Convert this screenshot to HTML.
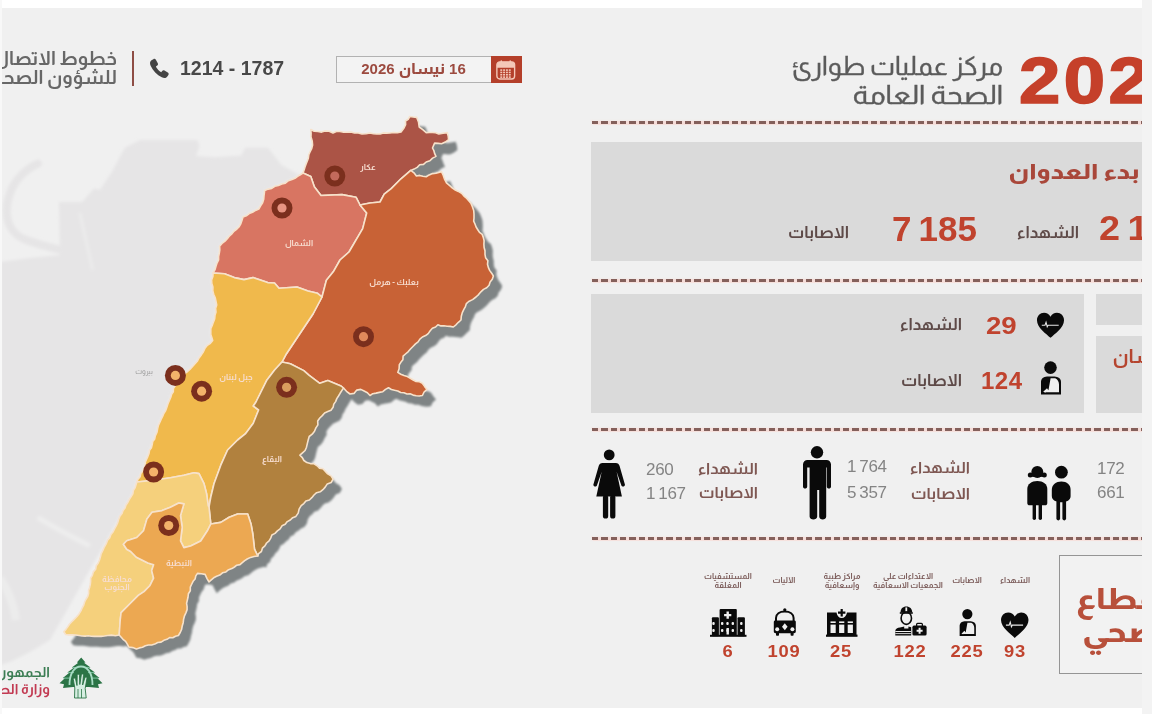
<!DOCTYPE html>
<html lang="ar"><head><meta charset="utf-8"><title>مركز عمليات طوارئ الصحة العامة</title>
<style>
*{margin:0;padding:0;box-sizing:border-box}
html,body{width:1152px;height:714px;overflow:hidden}
body{background:#f3f3f3;position:relative;font-family:'Almarai','Tajawal','DejaVu Sans',sans-serif}
#pg{position:absolute;left:0;top:0;width:1142px;height:714px;overflow:hidden;background:#f0f0f0}
.a{position:absolute;white-space:nowrap}
.r{direction:rtl;text-align:right}
.num{font-family:'Liberation Sans','Almarai','DejaVu Sans',sans-serif;font-weight:700;color:#c0432e}
.lb{color:#5e4a48;font-weight:700}
.gray{font-family:'Liberation Sans','Almarai','DejaVu Sans',sans-serif;color:#848484;letter-spacing:-0.3px}
.dl{position:absolute;left:592px;width:560px;height:2.8px;background:repeating-linear-gradient(90deg,#84605b 0 6.3px,#f5dcd8 6.3px 9.3px);box-shadow:0 0 1.5px 1.2px rgba(248,218,212,.7)}
.bx{position:absolute;background:#dadada}
.cap{position:absolute;text-align:center;font-size:8px;line-height:8.5px;color:#7a5a58;direction:rtl;font-weight:700}
.bn{position:absolute;text-align:center;font-family:'Liberation Sans','Almarai','DejaVu Sans',sans-serif;font-weight:700;font-size:17px;color:#c0432e;letter-spacing:0.8px;transform:scaleX(1.08)}
</style></head><body>
<div id="pg">
<svg style="position:absolute;left:0;top:0" width="600" height="714" viewBox="0 0 600 714">
<defs><filter id="bl" x="-10%" y="-10%" width="120%" height="120%"><feGaussianBlur stdDeviation="0.9"/></filter><filter id="bl2" x="-5%" y="-5%" width="110%" height="110%"><feGaussianBlur stdDeviation="1.6"/></filter></defs>
<g filter="url(#bl2)"><path d="M124.8,147.7 L140,140 L197.4,140 L199.5,146 L196,156 L214.6,157.3 L241.3,155.4 L245.1,147.7 L268,147.7 L281.4,165 L298.6,174.5 L303.0,173.0 L300.3,174.7 L297.6,176.4 L295.0,178.3 L292.0,179.6 L288.4,180.7 L285.4,183.1 L281.8,184.0 L278.4,185.5 L274.8,186.3 L271.7,188.4 L268.1,189.1 L264.7,190.4 L264.1,194.8 L263.7,199.2 L262.6,202.7 L260.6,205.8 L258.8,209.0 L255.5,210.4 L252.5,212.3 L249.2,213.6 L246.3,215.8 L243.0,217.0 L242.0,220.3 L240.9,223.6 L239.2,226.7 L236.9,229.0 L234.2,231.0 L232.1,233.6 L229.6,235.8 L227.5,238.4 L225.0,241.1 L222.0,243.5 L219.6,246.3 L219.8,249.8 L219.3,253.2 L218.6,256.6 L218.6,260.0 L217.0,263.1 L215.9,266.5 L214.9,269.9 L213.0,273.0 L212.9,276.5 L211.6,279.9 L211.8,283.5 L212.9,287.0 L212.8,290.7 L213.7,294.3 L215.2,297.7 L216.0,301.4 L216.7,305.0 L215.6,308.4 L216.0,312.0 L215.0,315.3 L214.7,318.8 L213.4,322.1 L212.2,325.4 L210.8,328.6 L210.8,334.5 L211.8,337.4 L212.7,340.4 L210.4,343.3 L207.3,345.3 L205.0,348.2 L203.4,351.7 L201.3,354.9 L199.0,358.0 L197.5,361.0 L195.2,363.5 L193.0,366.0 L190.1,369.1 L187.0,372.0 L184.4,373.6 L182.4,376.1 L180.0,378.0 L178.7,380.9 L176.9,383.5 L175.0,386.0 L173.4,388.6 L173.3,391.8 L171.6,394.3 L170.8,397.3 L169.6,400.0 L167.9,403.9 L166.6,408.0 L165.5,410.9 L163.8,413.5 L162.6,416.4 L161.2,419.1 L160.0,422.0 L158.4,425.3 L157.6,428.9 L156.9,432.5 L155.3,435.8 L154.7,438.9 L152.7,441.5 L152.2,444.6 L151.4,447.7 L149.5,450.3 L149.0,453.4 L147.9,456.3 L146.6,459.2 L145.4,462.0 L145.0,465.2 L143.9,468.1 L142.7,471.0 L140.8,473.5 L140.1,476.7 L138.0,479.1 L136.8,482.0 L135.9,484.9 L135.0,487.9 L133.3,490.5 L132.9,493.6 L131.3,496.3 L129.5,499.2 L127.9,502.2 L126.0,505.0 L125.0,508.0 L123.0,510.5 L122.0,513.5 L120.0,516.0 L118.7,519.2 L50,640 L30,652 L10,662 L0,665 L0,262 L30,258 L60,255 L59,202 L82,202 L94,188.6 L100,189.8 L111.5,172.6Z" fill="#e6e5e6"/><path d="M37.8,163.6 C20,172 10,186 7,205 C5,222 12,234 24,239 C36,244 52,248 69,252" fill="none" stroke="#e6e5e6" stroke-width="8" stroke-linecap="round"/><path d="M80,214 C84,232 88,250 92.4,268.7" fill="none" stroke="#ececec" stroke-width="2.5" stroke-linecap="round"/><path d="M39.6,518.7 C55,528 70,536 88,545" fill="none" stroke="#ededed" stroke-width="5" stroke-linecap="round"/><path d="M0,578 C8,590 14,606 16,620" fill="none" stroke="#ececec" stroke-width="8"/></g>
<g transform="translate(8,10)" fill="#7f8485" stroke="#7f8485" stroke-width="1.5" filter="url(#bl)">
<polygon points="310.8,129.5 314.2,131.3 318.0,131.5 321.6,132.1 325.0,131.0 329.2,131.2 333.0,133.0 336.3,131.5 340.0,131.5 343.6,132.3 347.2,132.3 350.8,132.0 354.5,133.0 358.3,133.0 362.0,134.0 366.0,133.7 370.0,133.0 373.4,133.7 376.8,134.0 380.1,133.9 383.4,132.9 386.7,133.1 390.0,133.0 393.6,132.5 397.4,132.7 401.0,132.0 404.0,128.0 405.6,124.7 405.5,121.0 408.2,119.3 409.8,116.5 413.2,117.0 416.7,117.4 418.5,122.0 419.2,127.0 422.8,129.7 426.2,132.6 429.4,132.5 432.6,132.5 435.7,132.8 438.8,134.0 443.0,133.2 447.2,132.6 448.2,136.0 448.6,139.6 445.3,142.1 441.6,143.8 438.1,143.4 434.6,143.1 432.5,148.0 433.9,150.7 434.7,153.7 436.0,156.4 432.6,158.1 429.9,160.8 426.2,162.0 423.5,164.4 419.7,164.8 417.2,167.4 414.1,169.1 410.8,170.4 401.0,178.8 391.2,188.6 384.2,194.2 380.0,202.0 370.0,203.0 360.0,205.0 356.0,197.2 342.0,194.6 321.0,195.5 314.3,186.8 310.8,176.4 303.0,173.0 304.1,170.0 305.0,167.0 306.1,163.9 307.4,160.8 308.4,157.9 308.8,154.8 310.0,152.0 311.7,148.6 312.6,145.0 312.2,140.9 311.0,137.0 311.1,133.2"/>
<polygon points="303.0,173.0 300.3,174.7 297.6,176.4 295.0,178.3 292.0,179.6 288.4,180.7 285.4,183.1 281.8,184.0 278.4,185.5 274.8,186.3 271.7,188.4 268.1,189.1 264.7,190.4 264.1,194.8 263.7,199.2 262.6,202.7 260.6,205.8 258.8,209.0 255.5,210.4 252.5,212.3 249.2,213.6 246.3,215.8 243.0,217.0 242.0,220.3 240.9,223.6 239.2,226.7 236.9,229.0 234.2,231.0 232.1,233.6 229.6,235.8 227.5,238.4 225.0,241.1 222.0,243.5 219.6,246.3 219.8,249.8 219.3,253.2 218.6,256.6 218.6,260.0 217.0,263.1 215.9,266.5 214.9,269.9 213.0,273.0 224.5,273.7 234.3,277.6 244.0,279.6 253.0,277.6 267.7,282.6 274.5,283.0 279.0,288.2 297.0,287.0 308.0,291.0 317.6,293.3 322.0,297.0 326.4,280.3 333.3,271.8 340.0,260.0 349.0,252.0 362.7,228.6 366.7,213.0 360.0,205.0 356.0,197.2 342.0,194.6 321.0,195.5 314.3,186.8 310.8,176.4"/>
<polygon points="410.8,170.4 414.0,172.8 416.4,176.0 419.7,175.4 422.9,176.3 426.2,176.7 429.2,174.9 432.4,173.6 436.0,173.2 441.6,171.8 443.2,175.2 444.4,178.8 446.5,182.8 450.0,185.8 452.5,188.2 455.3,190.0 458.4,191.4 461.6,193.3 464.0,196.1 466.8,198.4 469.0,201.0 471.1,203.6 472.4,206.8 473.7,210.4 474.0,214.2 474.0,218.0 473.7,221.1 475.0,224.0 476.1,227.0 477.8,229.7 479.5,232.4 482.2,234.4 483.3,237.4 484.1,240.7 483.9,244.1 484.1,247.5 485.0,250.8 485.0,254.3 485.6,257.7 487.9,260.7 487.5,264.3 488.4,267.6 489.8,270.6 491.7,273.2 493.4,276.0 492.3,279.3 490.1,281.9 489.1,285.3 486.7,287.8 483.5,289.4 480.9,291.8 478.6,294.6 476.0,297.0 472.6,299.6 468.7,301.5 466.4,303.6 465.4,306.6 464.0,309.2 462.3,312.6 461.3,316.2 461.0,320.0 458.4,322.3 456.0,324.8 453.3,327.0 450.2,326.4 447.1,326.2 444.0,325.8 440.9,325.9 437.9,324.7 435.6,327.0 432.4,328.3 430.2,330.8 428.2,333.6 425.6,335.6 422.4,337.0 419.9,339.1 418.1,341.9 415.5,343.9 413.2,346.2 410.7,348.8 408.3,351.6 405.5,354.0 403.1,356.2 402.9,359.7 401.0,362.1 399.3,364.7 399.1,368.7 397.8,372.4 400.8,374.2 404.0,375.5 407.3,376.6 410.3,378.2 413.2,380.0 416.1,381.5 419.5,381.8 422.4,383.2 424.6,386.4 427.0,389.4 424.1,392.0 422.4,395.5 419.2,396.0 416.2,395.8 413.1,395.1 410.1,393.8 407.0,394.0 404.0,392.8 400.7,392.5 397.8,391.0 394.6,390.3 391.4,389.5 388.5,387.8 385.5,389.4 382.8,391.7 379.3,392.4 376.1,393.1 372.8,393.7 370.0,395.5 367.4,392.7 364.1,391.0 360.8,389.4 356.8,390.1 354.0,393.4 350.0,394.0 346.5,391.3 343.5,388.0 341.0,386.0 327.8,380.6 319.8,383.3 309.2,375.3 303.8,370.6 290.3,363.8 282.0,362.0 285.8,354.8 299.3,334.5 313.0,314.0 322.0,297.0 326.4,280.3 333.3,271.8 340.0,260.0 349.0,252.0 362.7,228.6 366.7,213.0 360.0,205.0 370.0,203.0 380.0,202.0 384.2,194.2 391.2,188.6 401.0,178.8"/>
<polygon points="213.0,273.0 212.9,276.5 211.6,279.9 211.8,283.5 212.9,287.0 212.8,290.7 213.7,294.3 215.2,297.7 216.0,301.4 216.7,305.0 215.6,308.4 216.0,312.0 215.0,315.3 214.7,318.8 213.4,322.1 212.2,325.4 210.8,328.6 210.8,334.5 211.8,337.4 212.7,340.4 210.4,343.3 207.3,345.3 205.0,348.2 203.4,351.7 201.3,354.9 199.0,358.0 197.5,361.0 195.2,363.5 193.0,366.0 190.1,369.1 187.0,372.0 184.4,373.6 182.4,376.1 180.0,378.0 178.7,380.9 176.9,383.5 175.0,386.0 173.4,388.6 173.3,391.8 171.6,394.3 170.8,397.3 169.6,400.0 167.9,403.9 166.6,408.0 165.5,410.9 163.8,413.5 162.6,416.4 161.2,419.1 160.0,422.0 158.4,425.3 157.6,428.9 156.9,432.5 155.3,435.8 154.7,438.9 152.7,441.5 152.2,444.6 151.4,447.7 149.5,450.3 149.0,453.4 147.9,456.3 146.6,459.2 145.4,462.0 145.0,465.2 143.9,468.1 142.7,471.0 140.8,473.5 140.1,476.7 138.0,479.1 136.8,482.0 153.6,480.3 170.4,477.8 183.9,475.3 194.0,472.8 199.0,473.6 204.0,483.7 206.6,493.8 208.2,505.5 209.0,507.0 210.8,497.0 214.0,483.7 220.8,465.2 227.6,450.0 237.6,440.0 245.3,433.9 253.3,423.2 258.6,410.0 253.3,406.0 256.0,402.0 266.6,380.6 274.6,370.0 282.0,362.0 285.8,354.8 299.3,334.5 313.0,314.0 322.0,297.0 317.6,293.3 308.0,291.0 297.0,287.0 279.0,288.2 274.5,283.0 267.7,282.6 253.0,277.6 244.0,279.6 234.3,277.6 224.5,273.7"/>
<polygon points="282.0,362.0 274.6,370.0 266.6,380.6 256.0,402.0 253.3,406.0 258.6,410.0 253.3,423.2 245.3,433.9 237.6,440.0 227.6,450.0 220.8,465.2 214.0,483.7 210.8,497.0 209.0,507.0 210.8,524.0 220.8,522.4 229.2,517.3 237.6,514.0 247.7,514.0 251.0,524.0 252.8,534.0 254.5,549.2 257.8,556.0 258.6,553.6 261.4,551.5 262.4,548.2 264.9,545.9 266.6,543.0 269.1,540.8 270.7,538.1 271.9,535.0 275.0,533.4 277.4,530.9 280.1,528.9 282.0,525.8 285.2,524.3 287.3,521.6 290.3,520.0 292.7,517.7 295.9,516.4 298.2,513.1 299.1,509.1 301.2,505.7 303.8,503.6 305.9,501.0 309.4,500.0 311.8,497.7 314.0,495.0 316.6,492.7 320.2,491.8 322.9,489.7 325.2,487.1 327.3,483.9 331.2,482.5 333.1,479.1 331.0,475.9 327.7,473.9 325.2,471.1 322.9,468.7 319.5,468.1 317.2,465.8 314.1,463.8 310.4,463.6 306.9,462.6 303.9,460.5 302.3,457.6 299.9,455.2 302.5,452.9 305.1,450.5 306.5,447.2 307.3,443.6 308.2,440.0 309.2,436.5 312.2,434.2 314.5,431.2 315.9,427.9 317.9,424.9 317.7,421.0 319.8,418.0 322.3,415.6 324.6,413.0 327.8,411.6 331.0,410.2 333.1,407.3 333.8,404.1 335.6,401.6 336.8,398.6 338.5,396.0 340.1,393.3 341.8,390.6 343.5,388.0 341.0,386.0 327.8,380.6 319.8,383.3 309.2,375.3 303.8,370.6 290.3,363.8"/>
<polygon points="136.8,482.0 135.9,484.9 135.0,487.9 133.3,490.5 132.9,493.6 131.3,496.3 129.5,499.2 127.9,502.2 126.0,505.0 125.0,508.0 123.0,510.5 122.0,513.5 120.0,516.0 118.7,519.2 117.7,522.6 116.2,525.8 114.5,528.8 113.0,532.0 110.9,534.5 109.8,537.6 107.7,540.0 106.1,543.9 104.0,547.6 102.7,550.6 101.2,553.6 100.4,556.8 99.5,560.0 98.2,563.0 96.2,565.8 95.6,569.3 93.3,571.9 92.3,575.3 90.6,578.2 90.6,581.3 90.3,584.4 89.6,587.4 88.6,590.4 88.6,593.5 87.7,596.5 86.0,599.2 84.6,602.0 83.7,605.0 82.2,607.8 81.0,610.7 79.0,613.9 76.7,616.7 74.1,619.4 71.5,622.0 69.4,624.3 67.7,626.9 65.9,629.4 63.8,631.7 65.7,634.5 69.0,634.9 72.4,634.9 75.7,635.0 79.0,635.5 82.1,636.0 85.1,636.1 88.3,635.7 91.3,636.3 94.4,636.4 97.7,636.2 101.1,636.4 104.4,636.0 107.7,635.5 111.5,635.1 115.4,635.7 119.2,635.0 120.2,620.2 121.1,612.6 130.7,603.0 138.3,595.4 144.0,591.6 149.8,585.8 153.6,578.2 151.7,570.6 153.6,564.8 147.9,563.0 136.4,557.2 130.7,551.5 126.7,549.2 123.4,544.2 126.7,540.8 136.8,537.5 143.5,530.8 146.9,519.0 152.0,512.3 162.0,510.6 170.4,507.2 178.8,503.0 183.9,503.9 180.5,515.6 182.2,527.4 180.5,540.8 183.9,547.6 190.6,546.0 200.7,541.0 207.4,530.8 210.8,524.0 209.0,507.0 208.2,505.5 206.6,493.8 204.0,483.7 199.0,473.6 194.0,472.8 183.9,475.3 170.4,477.8 153.6,480.3"/>
<polygon points="210.8,524.0 220.8,522.4 229.2,517.3 237.6,514.0 247.7,514.0 251.0,524.0 252.8,534.0 254.5,549.2 257.8,556.0 254.1,556.5 250.6,557.4 247.2,559.0 244.7,560.6 242.3,562.6 240.0,564.6 236.8,565.2 234.5,567.0 231.9,568.6 228.6,569.7 225.9,571.9 222.5,572.8 219.8,575.1 216.6,576.3 213.7,577.8 211.3,579.8 209.0,582.0 206.9,578.3 205.1,574.4 201.3,573.8 197.5,573.4 195.8,575.9 195.1,579.0 193.1,581.3 191.8,584.0 190.3,587.2 190.3,590.8 188.4,593.8 188.0,597.3 187.3,600.3 186.6,603.3 187.1,606.5 187.1,609.6 186.0,612.6 184.5,615.8 183.6,619.2 183.2,622.7 182.2,626.0 181.6,629.4 180.2,632.5 178.4,635.5 175.5,636.2 172.8,637.8 169.6,637.6 167.0,639.3 163.9,640.3 161.1,642.1 157.7,642.5 154.8,644.1 151.7,645.0 148.4,645.0 145.4,645.8 142.5,647.3 139.4,647.9 136.4,648.9 132.7,647.6 128.8,647.0 127.3,644.1 125.6,641.4 123.0,639.3 119.2,635.0 120.2,620.2 121.1,612.6 130.7,603.0 138.3,595.4 144.0,591.6 149.8,585.8 153.6,578.2 151.7,570.6 153.6,564.8 147.9,563.0 136.4,557.2 130.7,551.5 126.7,549.2 123.4,544.2 126.7,540.8 136.8,537.5 143.5,530.8 146.9,519.0 152.0,512.3 162.0,510.6 170.4,507.2 178.8,503.0 183.9,503.9 180.5,515.6 182.2,527.4 180.5,540.8 183.9,547.6 190.6,546.0 200.7,541.0 207.4,530.8"/>
</g>
<g stroke="#f7e2cb" stroke-width="1.6" stroke-linejoin="round">
<polygon fill="#ab5446" points="310.8,129.5 314.2,131.3 318.0,131.5 321.6,132.1 325.0,131.0 329.2,131.2 333.0,133.0 336.3,131.5 340.0,131.5 343.6,132.3 347.2,132.3 350.8,132.0 354.5,133.0 358.3,133.0 362.0,134.0 366.0,133.7 370.0,133.0 373.4,133.7 376.8,134.0 380.1,133.9 383.4,132.9 386.7,133.1 390.0,133.0 393.6,132.5 397.4,132.7 401.0,132.0 404.0,128.0 405.6,124.7 405.5,121.0 408.2,119.3 409.8,116.5 413.2,117.0 416.7,117.4 418.5,122.0 419.2,127.0 422.8,129.7 426.2,132.6 429.4,132.5 432.6,132.5 435.7,132.8 438.8,134.0 443.0,133.2 447.2,132.6 448.2,136.0 448.6,139.6 445.3,142.1 441.6,143.8 438.1,143.4 434.6,143.1 432.5,148.0 433.9,150.7 434.7,153.7 436.0,156.4 432.6,158.1 429.9,160.8 426.2,162.0 423.5,164.4 419.7,164.8 417.2,167.4 414.1,169.1 410.8,170.4 401.0,178.8 391.2,188.6 384.2,194.2 380.0,202.0 370.0,203.0 360.0,205.0 356.0,197.2 342.0,194.6 321.0,195.5 314.3,186.8 310.8,176.4 303.0,173.0 304.1,170.0 305.0,167.0 306.1,163.9 307.4,160.8 308.4,157.9 308.8,154.8 310.0,152.0 311.7,148.6 312.6,145.0 312.2,140.9 311.0,137.0 311.1,133.2"/>
<polygon fill="#d87562" points="303.0,173.0 300.3,174.7 297.6,176.4 295.0,178.3 292.0,179.6 288.4,180.7 285.4,183.1 281.8,184.0 278.4,185.5 274.8,186.3 271.7,188.4 268.1,189.1 264.7,190.4 264.1,194.8 263.7,199.2 262.6,202.7 260.6,205.8 258.8,209.0 255.5,210.4 252.5,212.3 249.2,213.6 246.3,215.8 243.0,217.0 242.0,220.3 240.9,223.6 239.2,226.7 236.9,229.0 234.2,231.0 232.1,233.6 229.6,235.8 227.5,238.4 225.0,241.1 222.0,243.5 219.6,246.3 219.8,249.8 219.3,253.2 218.6,256.6 218.6,260.0 217.0,263.1 215.9,266.5 214.9,269.9 213.0,273.0 224.5,273.7 234.3,277.6 244.0,279.6 253.0,277.6 267.7,282.6 274.5,283.0 279.0,288.2 297.0,287.0 308.0,291.0 317.6,293.3 322.0,297.0 326.4,280.3 333.3,271.8 340.0,260.0 349.0,252.0 362.7,228.6 366.7,213.0 360.0,205.0 356.0,197.2 342.0,194.6 321.0,195.5 314.3,186.8 310.8,176.4"/>
<polygon fill="#c86236" points="410.8,170.4 414.0,172.8 416.4,176.0 419.7,175.4 422.9,176.3 426.2,176.7 429.2,174.9 432.4,173.6 436.0,173.2 441.6,171.8 443.2,175.2 444.4,178.8 446.5,182.8 450.0,185.8 452.5,188.2 455.3,190.0 458.4,191.4 461.6,193.3 464.0,196.1 466.8,198.4 469.0,201.0 471.1,203.6 472.4,206.8 473.7,210.4 474.0,214.2 474.0,218.0 473.7,221.1 475.0,224.0 476.1,227.0 477.8,229.7 479.5,232.4 482.2,234.4 483.3,237.4 484.1,240.7 483.9,244.1 484.1,247.5 485.0,250.8 485.0,254.3 485.6,257.7 487.9,260.7 487.5,264.3 488.4,267.6 489.8,270.6 491.7,273.2 493.4,276.0 492.3,279.3 490.1,281.9 489.1,285.3 486.7,287.8 483.5,289.4 480.9,291.8 478.6,294.6 476.0,297.0 472.6,299.6 468.7,301.5 466.4,303.6 465.4,306.6 464.0,309.2 462.3,312.6 461.3,316.2 461.0,320.0 458.4,322.3 456.0,324.8 453.3,327.0 450.2,326.4 447.1,326.2 444.0,325.8 440.9,325.9 437.9,324.7 435.6,327.0 432.4,328.3 430.2,330.8 428.2,333.6 425.6,335.6 422.4,337.0 419.9,339.1 418.1,341.9 415.5,343.9 413.2,346.2 410.7,348.8 408.3,351.6 405.5,354.0 403.1,356.2 402.9,359.7 401.0,362.1 399.3,364.7 399.1,368.7 397.8,372.4 400.8,374.2 404.0,375.5 407.3,376.6 410.3,378.2 413.2,380.0 416.1,381.5 419.5,381.8 422.4,383.2 424.6,386.4 427.0,389.4 424.1,392.0 422.4,395.5 419.2,396.0 416.2,395.8 413.1,395.1 410.1,393.8 407.0,394.0 404.0,392.8 400.7,392.5 397.8,391.0 394.6,390.3 391.4,389.5 388.5,387.8 385.5,389.4 382.8,391.7 379.3,392.4 376.1,393.1 372.8,393.7 370.0,395.5 367.4,392.7 364.1,391.0 360.8,389.4 356.8,390.1 354.0,393.4 350.0,394.0 346.5,391.3 343.5,388.0 341.0,386.0 327.8,380.6 319.8,383.3 309.2,375.3 303.8,370.6 290.3,363.8 282.0,362.0 285.8,354.8 299.3,334.5 313.0,314.0 322.0,297.0 326.4,280.3 333.3,271.8 340.0,260.0 349.0,252.0 362.7,228.6 366.7,213.0 360.0,205.0 370.0,203.0 380.0,202.0 384.2,194.2 391.2,188.6 401.0,178.8"/>
<polygon fill="#f0b94c" points="213.0,273.0 212.9,276.5 211.6,279.9 211.8,283.5 212.9,287.0 212.8,290.7 213.7,294.3 215.2,297.7 216.0,301.4 216.7,305.0 215.6,308.4 216.0,312.0 215.0,315.3 214.7,318.8 213.4,322.1 212.2,325.4 210.8,328.6 210.8,334.5 211.8,337.4 212.7,340.4 210.4,343.3 207.3,345.3 205.0,348.2 203.4,351.7 201.3,354.9 199.0,358.0 197.5,361.0 195.2,363.5 193.0,366.0 190.1,369.1 187.0,372.0 184.4,373.6 182.4,376.1 180.0,378.0 178.7,380.9 176.9,383.5 175.0,386.0 173.4,388.6 173.3,391.8 171.6,394.3 170.8,397.3 169.6,400.0 167.9,403.9 166.6,408.0 165.5,410.9 163.8,413.5 162.6,416.4 161.2,419.1 160.0,422.0 158.4,425.3 157.6,428.9 156.9,432.5 155.3,435.8 154.7,438.9 152.7,441.5 152.2,444.6 151.4,447.7 149.5,450.3 149.0,453.4 147.9,456.3 146.6,459.2 145.4,462.0 145.0,465.2 143.9,468.1 142.7,471.0 140.8,473.5 140.1,476.7 138.0,479.1 136.8,482.0 153.6,480.3 170.4,477.8 183.9,475.3 194.0,472.8 199.0,473.6 204.0,483.7 206.6,493.8 208.2,505.5 209.0,507.0 210.8,497.0 214.0,483.7 220.8,465.2 227.6,450.0 237.6,440.0 245.3,433.9 253.3,423.2 258.6,410.0 253.3,406.0 256.0,402.0 266.6,380.6 274.6,370.0 282.0,362.0 285.8,354.8 299.3,334.5 313.0,314.0 322.0,297.0 317.6,293.3 308.0,291.0 297.0,287.0 279.0,288.2 274.5,283.0 267.7,282.6 253.0,277.6 244.0,279.6 234.3,277.6 224.5,273.7"/>
<polygon fill="#b1813e" points="282.0,362.0 274.6,370.0 266.6,380.6 256.0,402.0 253.3,406.0 258.6,410.0 253.3,423.2 245.3,433.9 237.6,440.0 227.6,450.0 220.8,465.2 214.0,483.7 210.8,497.0 209.0,507.0 210.8,524.0 220.8,522.4 229.2,517.3 237.6,514.0 247.7,514.0 251.0,524.0 252.8,534.0 254.5,549.2 257.8,556.0 258.6,553.6 261.4,551.5 262.4,548.2 264.9,545.9 266.6,543.0 269.1,540.8 270.7,538.1 271.9,535.0 275.0,533.4 277.4,530.9 280.1,528.9 282.0,525.8 285.2,524.3 287.3,521.6 290.3,520.0 292.7,517.7 295.9,516.4 298.2,513.1 299.1,509.1 301.2,505.7 303.8,503.6 305.9,501.0 309.4,500.0 311.8,497.7 314.0,495.0 316.6,492.7 320.2,491.8 322.9,489.7 325.2,487.1 327.3,483.9 331.2,482.5 333.1,479.1 331.0,475.9 327.7,473.9 325.2,471.1 322.9,468.7 319.5,468.1 317.2,465.8 314.1,463.8 310.4,463.6 306.9,462.6 303.9,460.5 302.3,457.6 299.9,455.2 302.5,452.9 305.1,450.5 306.5,447.2 307.3,443.6 308.2,440.0 309.2,436.5 312.2,434.2 314.5,431.2 315.9,427.9 317.9,424.9 317.7,421.0 319.8,418.0 322.3,415.6 324.6,413.0 327.8,411.6 331.0,410.2 333.1,407.3 333.8,404.1 335.6,401.6 336.8,398.6 338.5,396.0 340.1,393.3 341.8,390.6 343.5,388.0 341.0,386.0 327.8,380.6 319.8,383.3 309.2,375.3 303.8,370.6 290.3,363.8"/>
<polygon fill="#f5d07c" points="136.8,482.0 135.9,484.9 135.0,487.9 133.3,490.5 132.9,493.6 131.3,496.3 129.5,499.2 127.9,502.2 126.0,505.0 125.0,508.0 123.0,510.5 122.0,513.5 120.0,516.0 118.7,519.2 117.7,522.6 116.2,525.8 114.5,528.8 113.0,532.0 110.9,534.5 109.8,537.6 107.7,540.0 106.1,543.9 104.0,547.6 102.7,550.6 101.2,553.6 100.4,556.8 99.5,560.0 98.2,563.0 96.2,565.8 95.6,569.3 93.3,571.9 92.3,575.3 90.6,578.2 90.6,581.3 90.3,584.4 89.6,587.4 88.6,590.4 88.6,593.5 87.7,596.5 86.0,599.2 84.6,602.0 83.7,605.0 82.2,607.8 81.0,610.7 79.0,613.9 76.7,616.7 74.1,619.4 71.5,622.0 69.4,624.3 67.7,626.9 65.9,629.4 63.8,631.7 65.7,634.5 69.0,634.9 72.4,634.9 75.7,635.0 79.0,635.5 82.1,636.0 85.1,636.1 88.3,635.7 91.3,636.3 94.4,636.4 97.7,636.2 101.1,636.4 104.4,636.0 107.7,635.5 111.5,635.1 115.4,635.7 119.2,635.0 120.2,620.2 121.1,612.6 130.7,603.0 138.3,595.4 144.0,591.6 149.8,585.8 153.6,578.2 151.7,570.6 153.6,564.8 147.9,563.0 136.4,557.2 130.7,551.5 126.7,549.2 123.4,544.2 126.7,540.8 136.8,537.5 143.5,530.8 146.9,519.0 152.0,512.3 162.0,510.6 170.4,507.2 178.8,503.0 183.9,503.9 180.5,515.6 182.2,527.4 180.5,540.8 183.9,547.6 190.6,546.0 200.7,541.0 207.4,530.8 210.8,524.0 209.0,507.0 208.2,505.5 206.6,493.8 204.0,483.7 199.0,473.6 194.0,472.8 183.9,475.3 170.4,477.8 153.6,480.3"/>
<polygon fill="#eca852" points="210.8,524.0 220.8,522.4 229.2,517.3 237.6,514.0 247.7,514.0 251.0,524.0 252.8,534.0 254.5,549.2 257.8,556.0 254.1,556.5 250.6,557.4 247.2,559.0 244.7,560.6 242.3,562.6 240.0,564.6 236.8,565.2 234.5,567.0 231.9,568.6 228.6,569.7 225.9,571.9 222.5,572.8 219.8,575.1 216.6,576.3 213.7,577.8 211.3,579.8 209.0,582.0 206.9,578.3 205.1,574.4 201.3,573.8 197.5,573.4 195.8,575.9 195.1,579.0 193.1,581.3 191.8,584.0 190.3,587.2 190.3,590.8 188.4,593.8 188.0,597.3 187.3,600.3 186.6,603.3 187.1,606.5 187.1,609.6 186.0,612.6 184.5,615.8 183.6,619.2 183.2,622.7 182.2,626.0 181.6,629.4 180.2,632.5 178.4,635.5 175.5,636.2 172.8,637.8 169.6,637.6 167.0,639.3 163.9,640.3 161.1,642.1 157.7,642.5 154.8,644.1 151.7,645.0 148.4,645.0 145.4,645.8 142.5,647.3 139.4,647.9 136.4,648.9 132.7,647.6 128.8,647.0 127.3,644.1 125.6,641.4 123.0,639.3 119.2,635.0 120.2,620.2 121.1,612.6 130.7,603.0 138.3,595.4 144.0,591.6 149.8,585.8 153.6,578.2 151.7,570.6 153.6,564.8 147.9,563.0 136.4,557.2 130.7,551.5 126.7,549.2 123.4,544.2 126.7,540.8 136.8,537.5 143.5,530.8 146.9,519.0 152.0,512.3 162.0,510.6 170.4,507.2 178.8,503.0 183.9,503.9 180.5,515.6 182.2,527.4 180.5,540.8 183.9,547.6 190.6,546.0 200.7,541.0 207.4,530.8"/>
</g>
<circle cx="334.8" cy="176" r="10.5" fill="#7b2f1d"/><circle cx="334.8" cy="176" r="4.6" fill="#c36a5c"/><circle cx="282" cy="208" r="10.5" fill="#7b2f1d"/><circle cx="282" cy="208" r="4.6" fill="#e79582"/><circle cx="363.5" cy="336.7" r="10.5" fill="#7b2f1d"/><circle cx="363.5" cy="336.7" r="4.6" fill="#e08a5c"/><circle cx="175.4" cy="375.4" r="10.5" fill="#7b2f1d"/><circle cx="175.4" cy="375.4" r="4.6" fill="#f4b36a"/><circle cx="201.6" cy="391.2" r="10.5" fill="#7b2f1d"/><circle cx="201.6" cy="391.2" r="4.6" fill="#f4b36a"/><circle cx="286.6" cy="387.3" r="10.5" fill="#7b2f1d"/><circle cx="286.6" cy="387.3" r="4.6" fill="#d99d5e"/><circle cx="153.6" cy="472" r="10.5" fill="#7b2f1d"/><circle cx="153.6" cy="472" r="4.6" fill="#f4b36a"/><circle cx="168.7" cy="525.5" r="10.5" fill="#7b2f1d"/><circle cx="168.7" cy="525.5" r="4.6" fill="#f2b26b"/>
<text x="368" y="170" text-anchor="middle" style="font-family:'Almarai','Tajawal','DejaVu Sans',sans-serif;font-size:8.3px;font-weight:700;fill:#f7ddd0">عكار</text><text x="299" y="245.5" text-anchor="middle" style="font-family:'Almarai','Tajawal','DejaVu Sans',sans-serif;font-size:8.3px;font-weight:700;fill:#f7ddd0">الشمال</text><text x="394" y="285" text-anchor="middle" style="font-family:'Almarai','Tajawal','DejaVu Sans',sans-serif;font-size:8.3px;font-weight:700;fill:#f7ddd0">بعلبك - هرمل</text><text x="236" y="380" text-anchor="middle" style="font-family:'Almarai','Tajawal','DejaVu Sans',sans-serif;font-size:8.3px;font-weight:700;fill:#f7ddd0">جبل لبنان</text><text x="272" y="461.5" text-anchor="middle" style="font-family:'Almarai','Tajawal','DejaVu Sans',sans-serif;font-size:8.3px;font-weight:700;fill:#f7ddd0">البقاع</text><text x="179" y="566" text-anchor="middle" style="font-family:'Almarai','Tajawal','DejaVu Sans',sans-serif;font-size:8.3px;font-weight:700;fill:#f7ddd0">النبطية</text><text x="117" y="581.5" text-anchor="middle" style="font-family:'Almarai','Tajawal','DejaVu Sans',sans-serif;font-size:8.3px;font-weight:700;fill:#f7ddd0">محافظة</text><text x="117" y="590" text-anchor="middle" style="font-family:'Almarai','Tajawal','DejaVu Sans',sans-serif;font-size:8.3px;font-weight:700;fill:#f7ddd0">الجنوب</text><text x="144" y="374" text-anchor="middle" style="font-family:'Almarai','Tajawal','DejaVu Sans',sans-serif;font-size:7px;fill:#9a9a9a">بيروت</text>
</svg>

<!-- header left -->
<div class="a r" style="right:1025px;top:50px;font-size:19px;font-weight:700;line-height:18.5px;color:#676767">خطوط الاتصال<br>للشؤون الصحية</div>
<div class="a" style="left:132px;top:51px;width:2px;height:35px;background:#8e4d45"></div>
<svg style="position:absolute;left:149px;top:58px" width="21" height="21" viewBox="0 0 22 22">
<path d="M4.6 1.2 C5.6 0.6 6.6 0.9 7.2 1.9 L9.2 5.4 C9.7 6.3 9.4 7.3 8.6 7.9 L7.3 8.8 C7.8 10.6 10.8 14 12.8 14.8 L13.8 13.5 C14.4 12.7 15.4 12.5 16.2 13 L19.7 15.2 C20.7 15.8 20.9 16.9 20.3 17.8 L19 19.6 C17.9 21.2 15.6 21.4 13.4 20.2 C8.4 17.6 4 13 1.7 8 C0.6 5.7 1 3.4 2.6 2.3Z" fill="#444"/>
</svg>
<div class="a" style="left:180px;top:57px;font-family:'Liberation Sans','Almarai','DejaVu Sans',sans-serif;font-weight:700;font-size:19.5px;color:#484848;direction:ltr">1214 - 1787</div>

<!-- date -->
<div class="a" style="left:336px;top:56px;width:156px;height:26.5px;border:1.5px solid #b2b2b2;border-right:none;background:#f3f3f3"></div>
<div class="a" style="left:490.5px;top:56px;width:31px;height:26.5px;background:#b43f2a"></div>
<svg style="position:absolute;left:496px;top:59.6px" width="19.5" height="20" viewBox="0 0 20 20">
<rect x="0.9" y="1.6" width="18.2" height="17.6" rx="3" fill="none" stroke="#f4c8b8" stroke-width="1.4"/>
<path d="M1 5 C1 3 2.4 1.6 4 1.6 H16 C17.6 1.6 19 3 19 5 V7.6 H1Z" fill="#f4c8b8"/>
<rect x="4.6" y="0" width="1.6" height="3.6" rx="0.8" fill="#f4c8b8"/>
<rect x="13.8" y="0" width="1.6" height="3.6" rx="0.8" fill="#f4c8b8"/>
<rect x="4.4" y="9.3" width="2" height="1.6" fill="#f4c8b8"/><rect x="4.4" y="11.700000000000001" width="2" height="1.6" fill="#f4c8b8"/><rect x="4.4" y="14.100000000000001" width="2" height="1.6" fill="#f4c8b8"/><rect x="4.4" y="16.5" width="2" height="1.6" fill="#f4c8b8"/><rect x="7.300000000000001" y="9.3" width="2" height="1.6" fill="#f4c8b8"/><rect x="7.300000000000001" y="11.700000000000001" width="2" height="1.6" fill="#f4c8b8"/><rect x="7.300000000000001" y="14.100000000000001" width="2" height="1.6" fill="#f4c8b8"/><rect x="7.300000000000001" y="16.5" width="2" height="1.6" fill="#f4c8b8"/><rect x="10.2" y="9.3" width="2" height="1.6" fill="#f4c8b8"/><rect x="10.2" y="11.700000000000001" width="2" height="1.6" fill="#f4c8b8"/><rect x="10.2" y="14.100000000000001" width="2" height="1.6" fill="#f4c8b8"/><rect x="10.2" y="16.5" width="2" height="1.6" fill="#f4c8b8"/><rect x="13.1" y="9.3" width="2" height="1.6" fill="#f4c8b8"/><rect x="13.1" y="11.700000000000001" width="2" height="1.6" fill="#f4c8b8"/><rect x="13.1" y="14.100000000000001" width="2" height="1.6" fill="#f4c8b8"/><rect x="13.1" y="16.5" width="2" height="1.6" fill="#f4c8b8"/>
</svg>
<div class="a r" style="left:336px;top:60px;width:155px;text-align:center;font-family:'Liberation Sans','Almarai','DejaVu Sans',sans-serif;font-weight:800;font-size:15px;color:#9c4a3f">16 نيسان 2026</div>

<!-- title -->
<div class="a" style="left:1019px;top:44.5px;font-family:'Liberation Sans','Almarai','DejaVu Sans',sans-serif;font-weight:700;font-size:64px;line-height:72px;color:#c5402a;letter-spacing:3px;-webkit-text-stroke:1.6px #c5402a;transform:scaleX(1.16);transform-origin:0 0">2026</div>
<div class="a r" style="right:139px;top:52px;font-size:26px;line-height:28.6px;color:#5b5b5b;-webkit-text-stroke:0.35px #5b5b5b">مركز عمليات طوارئ<br><span style="display:inline-block;transform:scaleX(1.09);transform-origin:100% 0">الصحة العامة</span></div>

<div class="dl" style="top:120.8px"></div>
<!-- box1 -->
<div class="bx" style="left:591px;top:142px;width:560px;height:119px"></div>
<div class="a r" style="right:2px;top:159.5px;font-size:21px;font-weight:800;color:#a9473a;transform:scaleX(1.21);transform-origin:100% 0">بدء العدوان</div>
<div class="a r" style="right:-50px;top:158px;font-size:21px;font-weight:700;color:#b5452f">منذ</div>
<div class="a num" style="left:1099px;top:208px;font-size:35px;line-height:40px;transform:scaleX(1.08);transform-origin:0 0">2 196</div>
<div class="a r lb" style="right:63px;top:223px;font-size:16.5px">الشهداء</div>
<div class="a num" style="left:892px;top:208.5px;font-size:35px;line-height:40px">7 185</div>
<div class="a r lb" style="right:293px;top:223px;font-size:16.5px">الاصابات</div>

<div class="dl" style="top:279.2px"></div>
<!-- box2 -->
<div class="bx" style="left:591px;top:294px;width:493px;height:119px"></div>
<div class="bx" style="left:1096px;top:294px;width:60px;height:30.5px"></div>
<div class="bx" style="left:1096px;top:335.5px;width:60px;height:77px"></div>
<div class="a r" style="right:-50px;top:345px;font-size:20px;font-weight:700;color:#b5452f">16 نيسان</div>
<svg style="position:absolute;left:1036px;top:312px" width="29" height="26.6" viewBox="0 0 30 27">
<path d="M15 26.5 C11 22.5 1 16 1 8.2 C1 3.8 4.3 0.6 8.3 0.6 C11.2 0.6 13.6 2.3 15 4.6 C16.4 2.3 18.8 0.6 21.7 0.6 C25.7 0.6 29 3.8 29 8.2 C29 16 19 22.5 15 26.5Z" fill="#0a0a0a"/>
<path d="M6 13.4 H9.3 L10.4 10.3 L11.6 15 L12.5 13.4 H23.5" fill="none" stroke="#e8e8e8" stroke-width="1.1"/>
</svg>
<div class="a num" style="left:986px;top:312px;font-size:24px;line-height:28px;transform:scaleX(1.15);transform-origin:0 0">29</div>
<div class="a r lb" style="right:180px;top:315px;font-size:16.5px">الشهداء</div>
<svg style="position:absolute;left:1038.5px;top:361px" width="24" height="34" viewBox="0 0 24 34">
<circle cx="11.5" cy="6.6" r="6.3" fill="#0a0a0a"/>
<path d="M2 33.5 V21 C2 17.5 4.5 15.6 8 15.4 H15.5 C19.2 15.6 22 17.5 22 21 V33.5 Z" fill="#0a0a0a"/>
<path d="M11.6 17.2 L16.2 17.2 C18.6 18.4 20 20.4 20 23.5 V31.3 H5.4 L9.5 29 Z" fill="#f0f0f0"/>
<path d="M4.2 30.8 L8 27.2 L9.6 29.6 L6.2 31.4Z" fill="#f0f0f0"/>
</svg>
<div class="a num" style="left:981px;top:367px;font-size:24px;line-height:28px;letter-spacing:0.5px">124</div>
<div class="a r lb" style="right:180px;top:371px;font-size:16.5px">الاصابات</div>

<div class="dl" style="top:428.3px"></div>
<!-- demographics -->
<svg style="position:absolute;left:593px;top:448.5px" width="32" height="70" viewBox="0 0 32 70">
<circle cx="16.2" cy="5.9" r="5.4" fill="#0a0a0a"/>
<path d="M9.5 14.1 H22.8 C24.8 14.1 26 15.2 26.6 17 L31.9 35.4 C32.4 37.6 29.1 38.5 28.4 36.5 L23.6 22.8 L28.9 47.5 H3.3 L8.7 22.8 L3.9 36.5 C3.2 38.5 -0.1 37.6 0.4 35.4 L5.7 17 C6.3 15.2 7.5 14.1 9.5 14.1Z" fill="#0a0a0a"/>
<rect x="9.9" y="46" width="5.3" height="23.5" rx="2.6" fill="#0a0a0a"/>
<rect x="17.1" y="46" width="5.3" height="23.5" rx="2.6" fill="#0a0a0a"/>
</svg>
<div class="a gray" style="left:646px;top:460px;font-size:17px">260</div>
<div class="a gray" style="left:646px;top:484px;font-size:17px">1 167</div>
<div class="a r" style="right:384px;top:457px;font-size:16px;font-weight:700;color:#7e5752;line-height:24px">الشهداء<br>الاصابات</div>
<svg style="position:absolute;left:802px;top:446.4px" width="30" height="74" viewBox="0 0 30 74">
<circle cx="15" cy="6.3" r="6.2" fill="#0a0a0a"/>
<path d="M5.5 14 H24.5 C27 14 29 16 29 18.6 V40.5 C29 43.3 24.8 43.3 24.8 40.5 V21.5 H24.2 V70.5 C24.2 74.5 17.2 74.5 17.2 70.5 V44 H15.2 V70.5 C15.2 74.5 7.6 74.5 7.6 70.5 V21.5 H5.2 V40.5 C5.2 43.3 1 43.3 1 40.5 V18.6 C1 16 3 14 5.5 14Z" fill="#0a0a0a"/>
</svg>
<div class="a gray" style="left:847px;top:457px;font-size:17px">1 764</div>
<div class="a gray" style="left:847px;top:483px;font-size:17px">5 357</div>
<div class="a r" style="right:172px;top:455px;font-size:16px;font-weight:700;color:#7e5752;line-height:26px">الشهداء<br>الاصابات</div>
<svg style="position:absolute;left:1027px;top:465px" width="46" height="56" viewBox="0 0 46 56">
<circle cx="10.3" cy="7" r="6" fill="#0a0a0a"/>
<circle cx="3.3" cy="9.9" r="2.5" fill="#0a0a0a"/>
<circle cx="17.3" cy="9.9" r="2.5" fill="#0a0a0a"/>
<rect x="3.3" y="8.6" width="14" height="3.2" fill="#0a0a0a"/>
<path d="M0.3 24 C0.3 19 4.5 16 10.3 16 C16.1 16 20.3 19 20.3 24 V38 C20.3 39.6 19.4 40.3 18 40.3 H2.6 C1.2 40.3 0.3 39.6 0.3 38Z" fill="#0a0a0a"/>
<rect x="5.6" y="38" width="3.4" height="17" rx="1.7" fill="#0a0a0a"/>
<rect x="11.6" y="38" width="3.4" height="17" rx="1.7" fill="#0a0a0a"/>
<circle cx="34.4" cy="7.2" r="6.4" fill="#0a0a0a"/>
<path d="M24.8 25 C24.8 19.5 29 16.5 34.4 16.5 C39.8 16.5 43.6 19.5 43.6 25 V31 C43.6 35 39.8 37.3 34.4 37.3 C29 37.3 24.8 35 24.8 31Z" fill="#0a0a0a"/>
<rect x="29.4" y="35" width="3.7" height="20.4" rx="1.8" fill="#0a0a0a"/>
<rect x="35.4" y="35" width="3.7" height="20.4" rx="1.8" fill="#0a0a0a"/>
</svg>
<div class="a gray" style="left:1097px;top:459px;font-size:17px">172</div>
<div class="a gray" style="left:1097px;top:483px;font-size:17px">661</div>

<div class="dl" style="top:536.9px"></div>
<!-- bottom stats -->
<div class="a" style="left:1058.5px;top:555px;width:120px;height:118.6px;border:1.6px solid #959595;background:#f2f2f2"></div>
<div class="a r" style="left:1076px;top:583px;font-size:29px;font-weight:800;color:#b8503b;line-height:33px;transform:scaleX(1.15);transform-origin:0 0">قطاع<br>صحي</div>

<div class="cap" style="left:995px;top:577px;width:40px">الشهداء</div>
<svg style="position:absolute;left:1000px;top:611.5px" width="29.5" height="26.5" viewBox="0 0 30 27">
<path d="M15 26.5 C11 22.5 1 16 1 8.2 C1 3.8 4.3 0.6 8.3 0.6 C11.2 0.6 13.6 2.3 15 4.6 C16.4 2.3 18.8 0.6 21.7 0.6 C25.7 0.6 29 3.8 29 8.2 C29 16 19 22.5 15 26.5Z" fill="#0a0a0a"/>
<path d="M6 13.4 H9.3 L10.4 10.3 L11.6 15 L12.5 13.4 H23.5" fill="none" stroke="#e8e8e8" stroke-width="1.1"/>
</svg>
<div class="bn" style="left:995px;top:642px;width:40px">93</div>

<div class="cap" style="left:947px;top:577px;width:40px">الاصابات</div>
<svg style="position:absolute;left:957.5px;top:607.5px" width="19.5" height="29" viewBox="0 0 24 34">
<circle cx="11.5" cy="6.6" r="6.3" fill="#0a0a0a"/>
<path d="M2 33.5 V21 C2 17.5 4.5 15.6 8 15.4 H15.5 C19.2 15.6 22 17.5 22 21 V33.5 Z" fill="#0a0a0a"/>
<path d="M11.6 17.2 L16.2 17.2 C18.6 18.4 20 20.4 20 23.5 V31.3 H5.4 L9.5 29 Z" fill="#f0f0f0"/>
<path d="M4.2 30.8 L8 27.2 L9.6 29.6 L6.2 31.4Z" fill="#f0f0f0"/>
</svg>
<div class="bn" style="left:947px;top:642px;width:40px">225</div>

<div class="cap" style="left:868px;top:573px;width:80px">الاعتداءات على<br>الجمعيات الاسعافية</div>
<svg style="position:absolute;left:895px;top:606px" width="32" height="30" viewBox="0 0 32 30">
<path d="M5.5 6.5 C5.5 2.8 7.8 0.6 11.3 0.6 C14.8 0.6 17.2 2.8 17.2 6.5 Z" fill="#0a0a0a"/>
<rect x="10.4" y="1.4" width="1.8" height="4" fill="#f0f0f0"/>
<ellipse cx="11.3" cy="12.2" rx="5.2" ry="6.2" fill="#f0f0f0" stroke="#0a0a0a" stroke-width="1.6"/>
<rect x="4.8" y="6.2" width="13" height="1.6" fill="#0a0a0a"/>
<path d="M0.3 29.6 V25 C0.3 22.6 2.6 21.6 5 21.4 L9.2 20.6 V22.5 H13.4 V20.6 L16.2 21.2 V29.6Z" fill="#0a0a0a"/>
<rect x="0.3" y="25" width="15.6" height="1" fill="#f0f0f0"/>
<rect x="0.3" y="27.2" width="15.6" height="0.9" fill="#f0f0f0"/>
<rect x="17.4" y="19.6" width="14.2" height="10" rx="1.6" fill="#0a0a0a"/>
<rect x="21.6" y="17.4" width="5.8" height="3.2" rx="1" fill="none" stroke="#0a0a0a" stroke-width="1.2"/>
<path d="M23.6 21.8 h2 v2 h2 v2 h-2 v2 h-2 v-2 h-2 v-2 h2z" fill="#f0f0f0"/>
</svg>
<div class="bn" style="left:890px;top:642px;width:40px">122</div>

<div class="cap" style="left:818px;top:573px;width:48px">مراكز طبية<br>وإسعافية</div>
<svg style="position:absolute;left:826px;top:609px" width="32" height="28" viewBox="0 0 32 28">
<path d="M1 3.5 H10.5 C11 7 13 9 15.7 9 C18.4 9 20.4 7 21 3.5 H30.5 V26.2 H1Z" fill="#0a0a0a"/>
<rect x="0" y="25.6" width="31.5" height="2.2" fill="#0a0a0a"/>
<path d="M14.6 0 h2.2 v2.6 h2.6 v2.2 h-2.6 v2.6 h-2.2 v-2.6 h-2.6 v-2.2 h2.6z" fill="#0a0a0a"/>
<rect x="4.5" y="12.4" width="5.2" height="11.6" fill="#f0f0f0"/>
<rect x="13.1" y="12.4" width="5.2" height="11.6" fill="#f0f0f0"/>
<rect x="21.7" y="12.4" width="5.2" height="11.6" fill="#f0f0f0"/>
<rect x="4" y="14" width="23.4" height="1.6" fill="#0a0a0a"/>
</svg>
<div class="bn" style="left:821px;top:642px;width:40px">25</div>

<div class="cap" style="left:764px;top:577px;width:40px">الآليات</div>
<svg style="position:absolute;left:773px;top:608px" width="24" height="28" viewBox="0 0 24 28">
<circle cx="11.8" cy="1.8" r="1.6" fill="#0a0a0a"/>
<path d="M3 13.5 V10 C3 6 6.5 3.4 11.8 3.4 C17 3.4 20.6 6 20.6 10 V13.5" fill="none" stroke="#0a0a0a" stroke-width="2"/>
<path d="M0.8 14 C0.8 13 1.6 12.6 2.5 12.6 H21 C22 12.6 22.8 13 22.8 14 V23.5 C22.8 24.6 22 25.2 21 25.2 H2.5 C1.6 25.2 0.8 24.6 0.8 23.5Z" fill="#0a0a0a"/>
<rect x="3" y="24" width="3" height="3.8" rx="0.8" fill="#0a0a0a"/>
<rect x="17.6" y="24" width="3" height="3.8" rx="0.8" fill="#0a0a0a"/>
<circle cx="4.2" cy="21.2" r="2" fill="#f0f0f0"/>
<circle cx="19.4" cy="21.2" r="2" fill="#f0f0f0"/>
<path d="M11.8 15.3 L14.6 18.8 L11.8 22.3 L9 18.8Z" fill="#f0f0f0"/>
</svg>
<div class="bn" style="left:764px;top:642px;width:40px">109</div>

<div class="cap" style="left:700px;top:573px;width:56px">المستشفيات<br>المغلقة</div>
<svg style="position:absolute;left:709.8px;top:608.5px" width="37" height="28" viewBox="0 0 37 28">
<rect x="9.6" y="0" width="17.2" height="27" rx="1" fill="#0a0a0a"/>
<rect x="1.9" y="8.2" width="7" height="19" rx="1" fill="#0a0a0a"/>
<rect x="27.5" y="8.2" width="7.4" height="19" rx="1" fill="#0a0a0a"/>
<rect x="0" y="25.8" width="36.5" height="2" fill="#0a0a0a"/>
<path d="M16.5 2.5 h2.4 v2.4 h2.4 v2.4 h-2.4 v2.4 h-2.4 v-2.4 h-2.4 v-2.4 h2.4z" fill="#f0f0f0"/>
<rect x="2.3" y="13.0" width="2.4" height="3" rx="1" fill="#f0f0f0"/><rect x="2.3" y="20.0" width="2.4" height="3" rx="1" fill="#f0f0f0"/><rect x="11.0" y="13.0" width="2.4" height="3" rx="1" fill="#f0f0f0"/><rect x="11.0" y="20.0" width="2.4" height="3" rx="1" fill="#f0f0f0"/><rect x="16.3" y="13.0" width="2.4" height="3" rx="1" fill="#f0f0f0"/><rect x="16.3" y="20.0" width="2.4" height="3" rx="1" fill="#f0f0f0"/><rect x="21.6" y="13.0" width="2.4" height="3" rx="1" fill="#f0f0f0"/><rect x="21.6" y="20.0" width="2.4" height="3" rx="1" fill="#f0f0f0"/><rect x="30.1" y="13.0" width="2.4" height="3" rx="1" fill="#f0f0f0"/><rect x="30.1" y="20.0" width="2.4" height="3" rx="1" fill="#f0f0f0"/>
<rect x="16.5" y="19" width="2.4" height="6.5" fill="#f0f0f0"/>
</svg>
<div class="bn" style="left:708px;top:642px;width:40px">6</div>

<!-- logo -->
<svg style="position:absolute;left:59px;top:657px" width="44" height="42" viewBox="0 0 44 42">
<path fill="#2b7446" d="M22.2 0.6 L26.5 5.5 L25 5.7 L31.5 10.5 L29.5 10.8 L36 15.5 L34 15.8 L40.5 21 L38.5 21.3 L43.5 26.2 L39 27.2 L40 31 L30 30 L14 30 L4 31 L5 27.2 L0.5 26.2 L5.8 21.3 L3.8 21 L10.3 15.8 L8.3 15.5 L14.8 10.8 L12.8 10.5 L19.3 5.7 L17.8 5.5Z"/>
<path d="M9 15.6 H15 M29 15.6 H35 M4.5 21.1 H12 M32 21.1 H39.5 M13.5 10.6 H17 M27 10.6 H30.5" stroke="#7fc4a3" stroke-width="1"/>
<path d="M10.5 28 C10.5 16 15.5 9.5 22 9.5 C28.5 9.5 33.5 16 33.5 28" fill="none" stroke="#a8dcc5" stroke-width="1.8"/>
<path d="M15.5 41 L15.8 31 L14.3 22.5 C14 20.8 16.2 20.4 16.6 22 L18 28.5 L18.2 18.5 C18.2 16.8 20.5 16.8 20.5 18.5 L20.8 27.5 L22.3 18 C22.6 16.4 24.8 16.7 24.5 18.3 L23.6 28 L25.8 21 C26.3 19.5 28.3 20 27.9 21.6 L26.2 31.5 L27.2 41Z" fill="#d6eee2" stroke="#2b7446" stroke-width="0.9"/>
<path d="M19 41 V32 M22.5 41 V32" stroke="#2b7446" stroke-width="0.8"/>
</svg>
<div class="a r" style="right:1092px;top:664px;font-size:14px;font-weight:700;line-height:17px;color:#3b7d53">الجمهورية اللبنانية<br><span style="color:#c23a52">وزارة الصحة العامة</span></div>

<!-- frame -->
<div class="a" style="left:0;top:0;width:1142px;height:8px;background:#fff"></div>
<div class="a" style="left:0;top:708px;width:1142px;height:6px;background:#fff"></div>
<div class="a" style="left:0;top:0;width:2px;height:714px;background:#f8f8f8"></div>
</div>
</body></html>
